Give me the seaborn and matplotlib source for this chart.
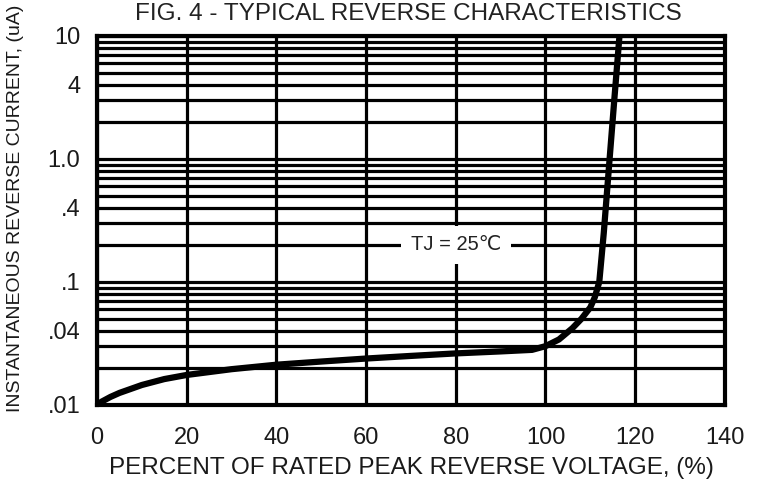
import numpy as np
import pandas as pd
import seaborn as sns
import matplotlib.pyplot as plt
from matplotlib.ticker import LogLocator, NullFormatter, FixedLocator

# curve
voltage_pct = [0, 1, 3, 5, 10, 15, 20, 30, 40, 50, 60, 70, 80, 90, 97, 100,
               103, 106, 108, 110, 111, 112, 113, 114.3, 115.4, 116.5]
current_ua = [0.010, 0.0106, 0.0116, 0.0125, 0.0145, 0.0162, 0.0175, 0.0195,
              0.0212, 0.0225, 0.0238, 0.025, 0.0262, 0.0272, 0.028, 0.030,
              0.034, 0.042, 0.050, 0.062, 0.075, 0.10, 0.25, 1.0, 3.2, 10.0]

y_ticks = [0.01, 0.04, 0.1, 0.4, 1.0, 4, 10]
y_tick_labels = [".01", ".04", ".1", ".4", "1.0", "4", "10"]
x_ticks = [0, 20, 40, 60, 80, 100, 120, 140]

df = pd.DataFrame({"pct": voltage_pct, "ir": current_ua})

sns.set_style("white")
plt.rcParams["font.family"] = ["Liberation Sans", "DejaVu Sans"]

fig = plt.figure(figsize=(7.61, 4.86), dpi=100)
ax = fig.add_axes([0.1275, 0.167, 0.825, 0.759])

sns.lineplot(data=df, x="pct", y="ir", ax=ax, color="black", lw=4.5,
             zorder=5, solid_capstyle="butt")

ax.set_yscale("log")
ax.set_xlim(0, 140)
ax.set_ylim(0.01, 10)

ax.yaxis.set_major_locator(FixedLocator(y_ticks))
ax.set_yticklabels(y_tick_labels)
ax.yaxis.set_minor_locator(LogLocator(base=10, subs=np.arange(2, 10)))
ax.yaxis.set_minor_formatter(NullFormatter())
ax.set_xticks(x_ticks)

ax.grid(axis="x", which="major", color="black", lw=2.3)
ax.grid(axis="y", which="both", color="black", lw=2.3)
ax.set_axisbelow(True)
ax.tick_params(axis="both", which="both", length=0, labelsize=17,
               labelcolor="#1a1a1a")
ax.tick_params(axis="y", pad=12)
ax.tick_params(axis="x", pad=16)

for s in ax.spines.values():
    s.set_color("black")
    s.set_linewidth(3)

ax.text(80, 0.2, "TJ = 25℃", ha="center", va="center", fontsize=14.5,
        color="#222222", zorder=6,
        bbox=dict(facecolor="white", edgecolor="none", pad=7))

ax.set_xlabel("PERCENT OF RATED PEAK REVERSE VOLTAGE, (%)", fontsize=17.5,
              color="#1a1a1a", labelpad=6)
ax.set_ylabel("INSTANTANEOUS REVERSE CURRENT, (uA)", fontsize=14,
              color="#1a1a1a")
ax.yaxis.set_label_coords(-0.117, 0.534)
fig.text(0.537, 0.972, "FIG. 4 - TYPICAL REVERSE CHARACTERISTICS",
         ha="center", va="center", fontsize=17.5, color="#222222")

fig.savefig("out.png", dpi=100)
